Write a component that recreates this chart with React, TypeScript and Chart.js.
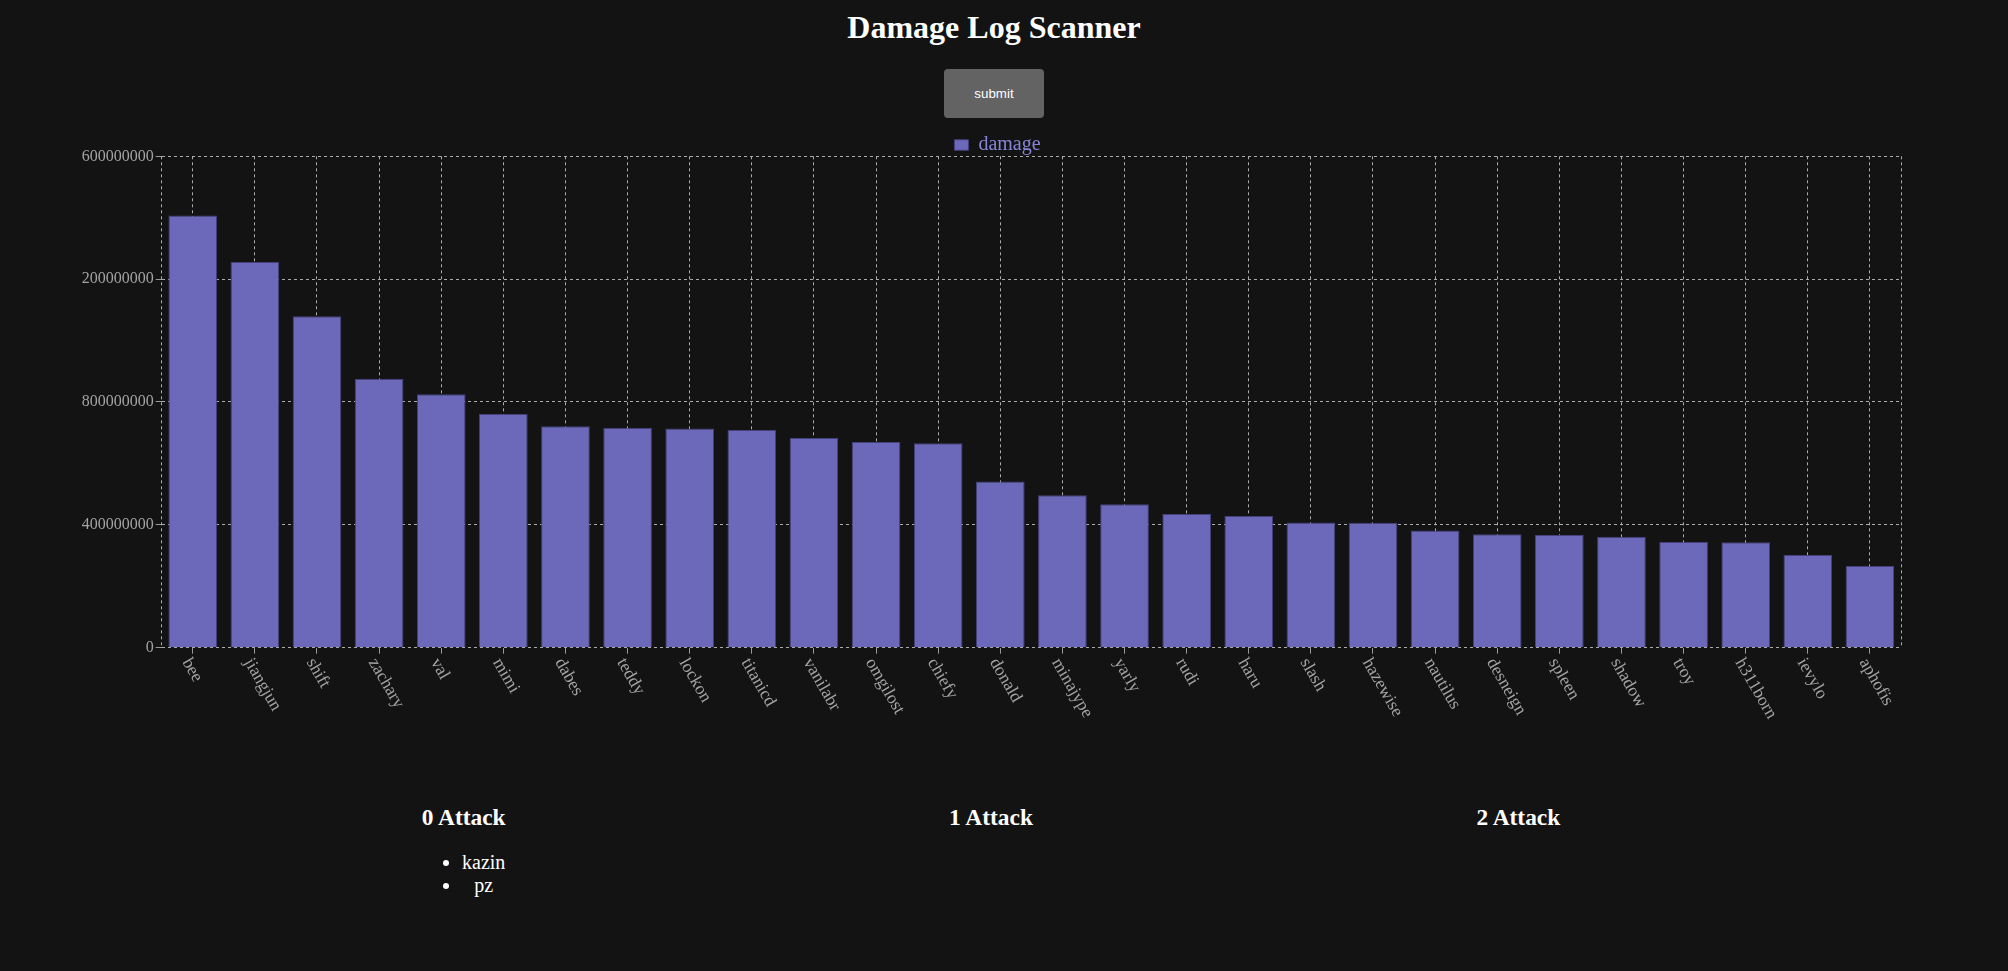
import React, { useEffect, useRef } from "react";
import { Chart, registerables } from "chart.js";

Chart.register(...registerables);

// ---------- data ----------
const players = [
  "bee", "jiangjun", "shift", "zachary", "val", "mimi", "dabes", "teddy",
  "lockon", "titanicd", "vanilabr", "omgilost", "chiefy", "donald", "minajype",
  "yarly", "rudi", "haru", "slash", "hazewise", "nautilus", "desneign",
  "spleen", "shadow", "troy", "h311born", "ievylo", "aphofis",
];
const damage = [
  1407000000, 1257000000, 1079000000, 876000000, 825000000, 762000000,
  721000000, 716000000, 714000000, 710000000, 683000000, 670000000,
  666000000, 541000000, 496000000, 467000000, 435000000, 429000000,
  408000000, 407000000, 382000000, 369000000, 367000000, 361000000,
  345000000, 343000000, 302000000, 267000000,
];
const yTicks = [0, 400000000, 800000000, 1200000000, 1600000000];
const seriesLabel = "damage";
const pageTitle = "Damage Log Scanner";
const buttonLabel = "submit";
const attackTitles = ["0 Attack", "1 Attack", "2 Attack"];
const attack0 = ["kazin", "pz"];
const attack1: string[] = [];
const attack2: string[] = [];

// ---------- styles ----------
const SERIF = "'Liberation Serif', 'Times New Roman', Times, serif";
const SANS = "'Liberation Sans', Arial, Helvetica, sans-serif";
const BG = "#131313";
const GRID = "#ababab";
const AXIS = "#9a9a9a";
const TICK = "#a3a3a3";
const BAR = "#6d69ba";
const BAR_EDGE = "#45417a";
const LEGEND = "#8884d8";
const X_LABEL_SIZE = 17.6;
const LEGEND_SHIFT = 6;

const rotatedXLabels = {
  id: "rotatedXLabels",
  afterDraw(chart: any) {
    const xs = chart.scales.x;
    const ctx = chart.ctx as CanvasRenderingContext2D;
    const size = X_LABEL_SIZE;
    ctx.save();
    ctx.fillStyle = TICK;
    ctx.font = `${size}px ${SERIF}`;
    ctx.textAlign = "left";
    ctx.textBaseline = "alphabetic";
    (chart.data.labels as string[]).forEach((lab, i) => {
      const x = xs.getPixelForTick(i);
      const y = xs.top + 8;
      ctx.save();
      ctx.translate(x, y);
      ctx.rotate(Math.PI / 3);
      ctx.fillText(String(lab), 0, 0.71 * size);
      ctx.restore();
    });
    ctx.restore();
  },
};

const frame = {
  id: "frame",
  afterLayout(chart: any) {
    const lg = chart.legend;
    if (lg) {
      lg.left += LEGEND_SHIFT;
      lg.right += LEGEND_SHIFT;
    }
  },
  beforeDatasetsDraw(chart: any) {
    const { ctx, chartArea } = chart;
    const { left, right, top, bottom } = chartArea;
    ctx.save();
    ctx.strokeStyle = GRID;
    ctx.lineWidth = 1;
    ctx.setLineDash([3, 3]);
    [left, right].forEach((x: number) => {
      const px = Math.round(x - 0.5) + 0.5;
      ctx.beginPath();
      ctx.moveTo(px, top);
      ctx.lineTo(px, bottom);
      ctx.stroke();
    });
    ctx.restore();
  },
};

function DamageChart() {
  const ref = useRef<HTMLCanvasElement | null>(null);
  useEffect(() => {
    if (!ref.current) return;
    const chart = new Chart(ref.current, {
      type: "bar",
      data: {
        labels: players,
        datasets: [
          {
            label: seriesLabel,
            data: damage,
            backgroundColor: BAR,
            borderColor: BAR_EDGE,
            borderWidth: 1,
            categoryPercentage: 0.8,
            barPercentage: 0.98,
          },
        ],
      },
      options: {
        responsive: true,
        maintainAspectRatio: false,
        animation: false,
        layout: { padding: { top: 15, right: 30, bottom: 0, left: 0 } },
        plugins: {
          legend: {
            position: "top",
            maxHeight: 21.3,
            labels: {
              color: LEGEND,
              font: { family: SERIF, size: 20 },
              boxWidth: 14,
              boxHeight: 10.5,
              padding: 0,
            },
          },
          tooltip: { enabled: false },
        },
        scales: {
          x: {
            offset: true,
            grid: {
              offset: false,
              color: GRID,
              lineWidth: 1,
              drawTicks: true,
              tickLength: 6,
              tickColor: AXIS,
              tickBorderDash: [],
            },
            border: { display: false, dash: [3, 3] },
            ticks: { display: false },
            afterFit: (s: any) => {
              s.height = 137.3;
            },
          },
          y: {
            min: 0,
            max: 1600000000,
            afterBuildTicks: (s: any) => {
              s.ticks = yTicks.map((v) => ({ value: v }));
            },
            grid: {
              color: GRID,
              lineWidth: 1,
              tickLength: 6,
              tickColor: AXIS,
              tickBorderDash: [],
            },
            border: { display: false, dash: [3, 3] },
            ticks: {
              color: TICK,
              font: { family: SERIF, size: 16 },
              padding: 2,
              callback: (v: any) => String(v),
            },
            afterFit: (s: any) => {
              s.width = 79.7;
            },
          },
        },
      } as any,
      plugins: [frame, rotatedXLabels],
    });
    return () => chart.destroy();
  }, []);
  return (
    <div style={{ position: "relative", width: 1849, height: 665, margin: "2px 0 0 74px" }}>
      <canvas ref={ref} style={{ display: "block" }} />
    </div>
  );
}

function AttackColumn({ title, names }: { title: string; names: string[] }) {
  return (
    <div style={{ flex: "1 1 0", textAlign: "center" }}>
      <h3
        style={{
          margin: "18.5px 0 20.5px",
          fontSize: "23.4px",
          fontWeight: "bold",
          lineHeight: "normal",
          color: "#fff",
          fontFamily: SERIF,
        }}
      >
        {title}
      </h3>
      {names.length > 0 && (
        <ul
          style={{
            display: "inline-block",
            margin: 0,
            paddingLeft: 40,
            fontSize: 20,
            color: "#fff",
            fontFamily: SERIF,
            textAlign: "center",
            listStyleType: "disc",
          }}
        >
          {names.map((n) => (
            <li key={n}>{n}</li>
          ))}
        </ul>
      )}
    </div>
  );
}

export default function App() {
  useEffect(() => {
    document.body.style.background = BG;
    document.documentElement.style.background = BG;
  }, []);
  const lists = [attack0, attack1, attack2];
  return (
    <div style={{ width: 1972, fontFamily: SERIF, color: "#fff" }}>
      <h1
        style={{
          margin: "1px 0 0",
          fontSize: 32,
          fontWeight: "bold",
          lineHeight: "normal",
          textAlign: "center",
          fontFamily: SERIF,
        }}
      >
        {pageTitle}
      </h1>
      <button
        style={{
          display: "block",
          margin: "23px auto 0",
          width: 100,
          height: 49,
          background: "#636363",
          color: "#fff",
          border: "none",
          borderRadius: 4,
          fontFamily: SANS,
          fontSize: "13.33px",
          padding: 0,
        }}
      >
        {buttonLabel}
      </button>
      <DamageChart />
      <div style={{ display: "flex", width: 1582, marginLeft: 192 }}>
        {attackTitles.map((t, i) => (
          <AttackColumn key={t} title={t} names={lists[i]} />
        ))}
      </div>
    </div>
  );
}
